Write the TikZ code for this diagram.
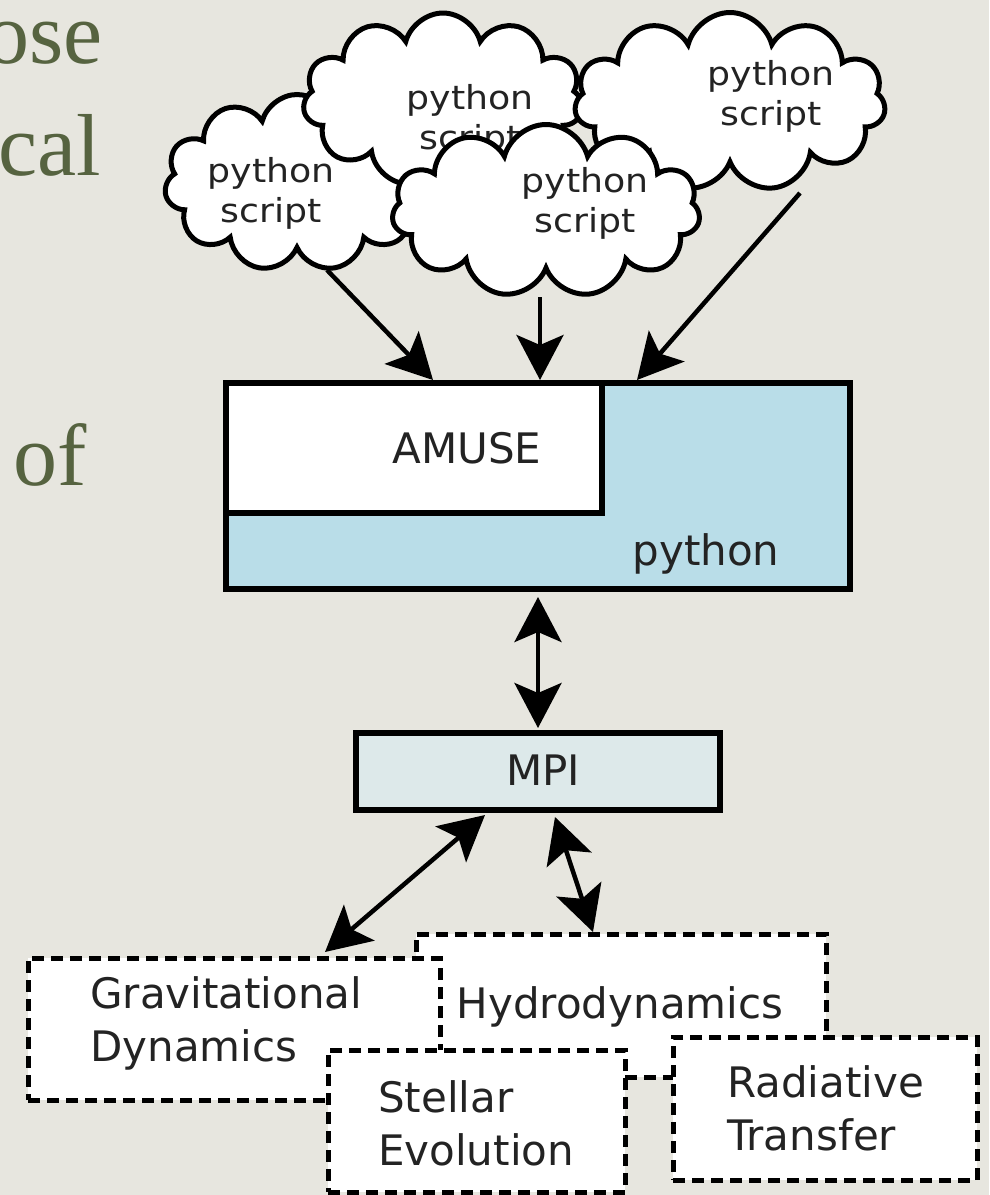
\documentclass[tikz,border=0pt]{standalone}
\usepackage{fontspec}
\newfontfamily\dvs{DejaVu Sans}
\newfontfamily\dvw[FakeStretch=1.1]{DejaVu Sans}
\newfontfamily\lser{Liberation Serif}
\usetikzlibrary{arrows.meta,shapes.symbols}
\definecolor{bg}{RGB}{231,230,223}
\definecolor{olive}{RGB}{86,99,64}
\definecolor{pyblue}{RGB}{185,221,232}
\definecolor{mpiblue}{RGB}{221,233,234}
\definecolor{ink}{RGB}{35,35,35}
\begin{document}
\begin{tikzpicture}[x=1pt,y=1pt,
  cloudshape/.style={cloud, cloud puffs=11, cloud puff arc=150, cloud ignores aspect, draw=black, fill=white, line width=5pt, inner sep=0pt},
  cloudtext/.style={font=\dvw\fontsize{33}{40}\selectfont, text=ink, align=center, anchor=base, inner sep=0pt},
  arr/.style={line width=4.5pt, -{Stealth[length=45pt,width=47pt,inset=10pt]}},
  darr/.style={line width=4.5pt, {Stealth[length=45pt,width=47pt,inset=10pt]}-{Stealth[length=45pt,width=47pt,inset=10pt]}},
  solidbox/.style={draw=black, line width=6pt, inner sep=0pt},
  dbox/.style={draw=black, fill=white, line width=5pt, dash pattern=on 12pt off 7pt, inner sep=0pt},
  boxtext/.style={font=\dvs\fontsize{42}{53}\selectfont, text=ink, inner sep=0pt},
  sidetext/.style={font=\lser\fontsize{88}{100}\selectfont, text=olive, inner sep=0pt}
]
\useasboundingbox (0,0) rectangle (989,-1195);
\fill[bg] (0,0) rectangle (989,-1195);

% fragments of slide text
\node[sidetext, anchor=base east] (s1) at (103,-63) {ose};
\node[sidetext, anchor=base east] (s2) at (101,-175) {cal};
\node[sidetext, anchor=base west] (s3) at (13,-485) {of};

% clouds (base anchor = baseline of the last line)
\node[cloudshape, minimum width=265pt, minimum height=177pt] (cA) at (297,-183) {};
\node[cloudtext] (cAt) at (271,-222) {python\\script};
\node[cloudshape, minimum width=280pt, minimum height=174pt] (cB) at (443,-100) {};
\node[cloudtext] (cBt) at (470,-149) {python\\script};
\node[cloudshape, minimum width=311pt, minimum height=179pt] (cC) at (730,-102) {};
\node[cloudtext] (cCt) at (771,-125) {python\\script};
\node[cloudshape, minimum width=308pt, minimum height=173pt] (cD) at (546,-211) {};
\node[cloudtext] (cDt) at (585,-232) {python\\script};

% python / AMUSE box
\node[solidbox, fill=pyblue, minimum width=624pt, minimum height=206pt] (pybox) at (538,-486) {};
\node[solidbox, fill=white, minimum width=376pt, minimum height=130pt] (amuse) at (414,-448) {};
\node[boxtext] (amuseT) at (467,-448) {AMUSE};
\node[boxtext, anchor=base] (pyT) at (706,-565) {python};

% MPI
\node[solidbox, fill=mpiblue, minimum width=364pt, minimum height=77pt] (mpi) at (538,-771.5) {};
\node[boxtext] (mpiT) at (543,-770) {MPI};

% arrows from scripts
\coordinate (sA) at (327,-270); \coordinate (tA) at (433,-380);
\coordinate (sD) at (540,-297); \coordinate (tD) at (540,-380);
\coordinate (sC) at (800,-193); \coordinate (tC) at (637,-380);
\draw[arr] (sA) -- (tA);
\draw[arr] (sD) -- (tD);
\draw[arr] (sC) -- (tC);

% double arrows
\coordinate (m1) at (538,-597); \coordinate (m2) at (538,-728);
\draw[darr] (m1) -- (m2);
\coordinate (g1) at (485,-815); \coordinate (g2) at (325,-952);
\draw[darr] (g1) -- (g2);
\coordinate (h1) at (555,-817); \coordinate (h2) at (593,-932);
\draw[darr] (h1) -- (h2);

% module boxes
\node[dbox, minimum width=410pt, minimum height=143pt] (hydro) at (621,-1005.5) {};
\node[boxtext, anchor=base] (hydroT) at (620,-1018) {Hydrodynamics};
\node[dbox, minimum width=412pt, minimum height=142pt] (grav) at (234,-1029) {};
\node[boxtext, align=left, anchor=base west] (gravT) at (90,-1061) {Gravitational\\Dynamics};
\node[dbox, minimum width=297pt, minimum height=142pt] (stellar) at (476.5,-1121) {};
\node[boxtext, align=left, anchor=base west] (stellarT) at (378,-1165) {Stellar\\Evolution};
\node[dbox, minimum width=304pt, minimum height=143pt] (rad) at (825,-1108.5) {};
\node[boxtext, align=left, anchor=base west] (radT) at (727,-1150) {Radiative\\Transfer};
\end{tikzpicture}
\end{document}
